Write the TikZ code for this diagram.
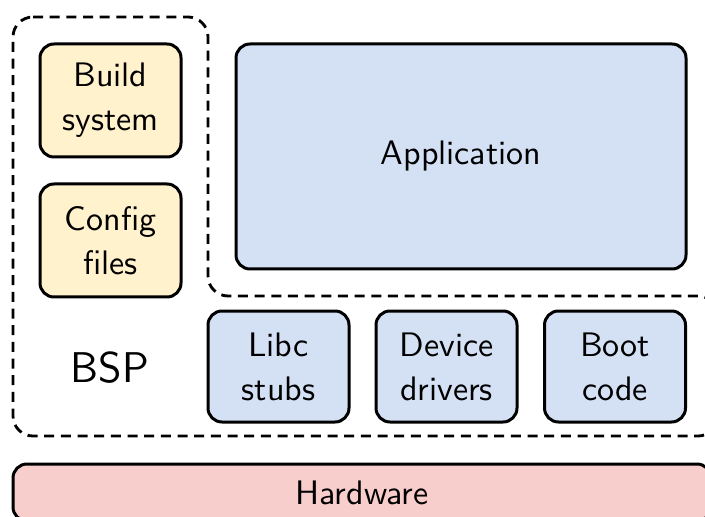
\documentclass[tikz,border=0pt]{standalone}
\usepackage{fontspec}
\renewcommand{\familydefault}{\sfdefault}
\definecolor{ylw}{HTML}{FFF2CC}
\definecolor{blu}{HTML}{D4E1F5}
\definecolor{pnk}{HTML}{F8CECC}
\begin{document}
\begin{tikzpicture}[x=0.3pt,y=-0.3pt,
  box/.style={draw, line width=0.9pt, rounded corners=4.2pt, inner sep=0pt, align=center, font=\sffamily\fontsize{10.2}{13.2}\selectfont},
  ybox/.style={box, fill=ylw, minimum width=42.3pt, minimum height=33.9pt},
  bbox/.style={box, fill=blu, minimum width=42.3pt, minimum height=33.3pt},
  bspline/.style={line width=0.85pt, dash pattern=on 3pt off 2pt, rounded corners=6pt}]
\useasboundingbox (0,0) rectangle (705,517);
\clip (0,0) rectangle (705,517);
\draw[bspline] (13,17) -- (208,17) -- (208,296) -- (718,296) -- (718,436) -- (13,436) -- cycle;
\node[ybox] (build) at (110.5,100.5) {Build\\system};
\node[ybox] (config) at (110.5,240.5) {Config\\files};
\node[box, fill=blu, minimum width=135pt, minimum height=67.5pt] (app) at (461,156.5) {Application};
\node[bbox] (libc) at (278.5,366.5) {Libc\\stubs};
\node[bbox] (dev) at (446.5,366.5) {Device\\drivers};
\node[bbox] (boot) at (615,366.5) {Boot\\code};
\node[font=\sffamily\fontsize{12.9}{15}\selectfont] (bsp) at (110,368) {BSP};
\node[box, fill=pnk, minimum width=209.4pt, minimum height=17.1pt] (hw) at (362,492.5) {Hardware};
\end{tikzpicture}
\end{document}
